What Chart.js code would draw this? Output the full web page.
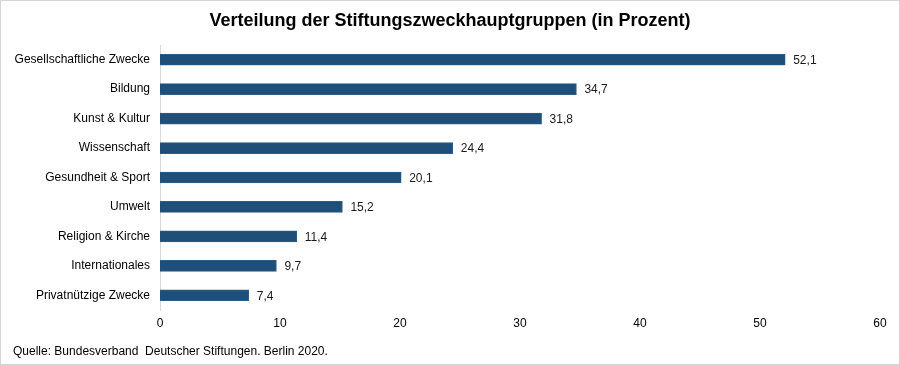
<!DOCTYPE html>
<html>
<head>
<meta charset="utf-8">
<script src="https://cdn.jsdelivr.net/npm/chart.js@4"></script>
<style>
  html, body { margin: 0; padding: 0; background: #fff; }
  #wrap { width: 900px; height: 365px; position: relative; }
</style>
</head>
<body>
<div id="wrap"><canvas id="dash"></canvas></div>
<script>
const kategorien = ['Gesellschaftliche Zwecke', 'Bildung', 'Kunst & Kultur', 'Wissenschaft', 'Gesundheit & Sport', 'Umwelt', 'Religion & Kirche', 'Internationales', 'Privatnützige Zwecke'];
const anteile = [52.1, 34.7, 31.8, 24.4, 20.1, 15.2, 11.4, 9.7, 7.4];
const titel = 'Verteilung der Stiftungszweckhauptgruppen (in Prozent)';
const quelle = 'Quelle: Bundesverband  Deutscher Stiftungen. Berlin 2020.';

const schrift = "'Liberation Sans', Arial, sans-serif";

// Titel, Quelle, Rahmen und Werte an den Balken
const extras = {
  id: 'extras',
  afterDraw(chart) {
    const ctx = chart.ctx;
    ctx.save();
    ctx.strokeStyle = '#d4d4d4';
    ctx.lineWidth = 1;
    ctx.strokeRect(0.5, 0.5, chart.width - 1, chart.height - 1);

    ctx.fillStyle = '#000';
    ctx.font = "bold 18px 'Liberation Sans Narrow', 'Arial Narrow', " + schrift;
    ctx.textAlign = 'center';
    ctx.textBaseline = 'middle';
    ctx.fillText(titel, 450, 21);

    ctx.font = '12px ' + schrift;
    ctx.textAlign = 'left';
    ctx.fillText(quelle, 13, 352);

    const meta = chart.getDatasetMeta(0);
    ctx.fillStyle = '#1a1a1a';
    meta.data.forEach((bar, i) => {
      ctx.fillText(anteile[i].toFixed(1).replace('.', ','), bar.x + 8, bar.y + 1);
    });
    ctx.restore();
  }
};

new Chart(document.getElementById('dash'), {
  type: 'bar',
  data: {
    labels: kategorien,
    datasets: [{
      data: anteile,
      backgroundColor: '#1f4e79',
      borderColor: '#2e5d87',
      borderWidth: 1,
      barThickness: 11,
    }],
  },
  options: {
    indexAxis: 'y',
    responsive: true,
    maintainAspectRatio: false,
    animation: false,
    layout: { padding: { top: 45, right: 20, bottom: 25, left: 0 } },
    scales: {
      x: {
        min: 0,
        max: 60,
        ticks: { stepSize: 10, color: '#000', font: { family: schrift, size: 12 }, padding: 6 },
        grid: { display: false, drawTicks: false },
        border: { display: false },
        afterFit(scale) { scale.height = 30; },
      },
      y: {
        ticks: { color: '#000', font: { family: schrift, size: 12 }, padding: 10 },
        grid: { display: false, drawTicks: false },
        border: { display: true, color: '#d9d9d9', width: 1 },
        afterFit(scale) { scale.width = 160; },
      },
    },
    plugins: {
      legend: { display: false },
      tooltip: { enabled: false },
    },
  },
  plugins: [extras],
});
</script>
</body>
</html>
